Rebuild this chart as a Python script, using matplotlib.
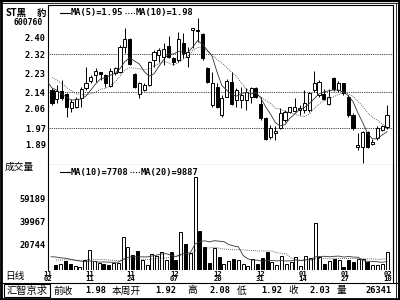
import matplotlib
matplotlib.use('Agg')
import matplotlib.pyplot as plt
from matplotlib.patches import Rectangle
import numpy as np
import pandas as pd

plt.rcParams['font.family'] = ['DejaVu Sans Mono', 'Noto Sans CJK SC']
plt.rcParams['font.weight'] = 'bold'

# daily candles, 11/02 .. 02/10
opens = [2.150, 2.107, 2.145, 2.131, 2.065, 2.069, 2.112, 2.159, 2.192, 2.221,
         2.235, 2.221, 2.169, 2.230, 2.235, 2.353, 2.391, 2.225, 2.131, 2.150,
         2.173, 2.292, 2.315, 2.306, 2.358, 2.301, 2.292, 2.372, 2.306, 2.434,
         2.434, 2.415, 2.254, 2.079, 2.164, 2.031, 2.117, 2.188, 2.102, 2.102,
         2.102, 2.117, 2.159, 2.083, 2.017, 1.927, 1.946, 1.970, 2.008, 2.046,
         2.050, 2.055, 2.055, 2.055, 2.150, 2.126, 2.131, 2.083, 2.206, 2.150,
         2.183, 2.117, 2.031, 1.880, 1.880, 1.951, 1.894, 1.923, 1.961, 1.975]
closes = [2.088, 2.145, 2.112, 2.069, 2.093, 2.107, 2.154, 2.183, 2.211, 2.240,
          2.225, 2.183, 2.240, 2.254, 2.353, 2.391, 2.273, 2.164, 2.183, 2.173,
          2.282, 2.329, 2.339, 2.344, 2.306, 2.282, 2.391, 2.325, 2.329, 2.443,
          2.429, 2.301, 2.188, 2.183, 2.069, 2.112, 2.192, 2.083, 2.150, 2.126,
          2.140, 2.159, 2.117, 2.017, 1.918, 1.970, 1.956, 2.041, 2.046, 2.069,
          2.069, 2.065, 2.088, 2.136, 2.183, 2.188, 2.107, 2.117, 2.154, 2.183,
          2.136, 2.031, 1.970, 1.890, 1.951, 1.880, 1.904, 1.970, 1.979, 2.030]
highs = [2.159, 2.173, 2.197, 2.136, 2.107, 2.117, 2.164, 2.259, 2.221, 2.254,
         2.235, 2.225, 2.254, 2.259, 2.362, 2.443, 2.396, 2.230, 2.188, 2.183,
         2.287, 2.339, 2.348, 2.372, 2.405, 2.306, 2.424, 2.420, 2.353, 2.445,
         2.490, 2.420, 2.259, 2.235, 2.183, 2.126, 2.202, 2.235, 2.159, 2.164,
         2.159, 2.164, 2.164, 2.117, 2.022, 1.984, 1.979, 2.065, 2.055, 2.069,
         2.112, 2.079, 2.150, 2.140, 2.240, 2.197, 2.154, 2.154, 2.211, 2.192,
         2.183, 2.126, 2.041, 1.946, 1.956, 1.956, 1.918, 1.979, 1.984, 2.080]
lows = [2.079, 2.088, 2.102, 2.022, 2.046, 2.065, 2.069, 2.150, 2.183, 2.188,
        2.197, 2.164, 2.164, 2.221, 2.230, 2.325, 2.268, 2.159, 2.112, 2.145,
        2.169, 2.259, 2.282, 2.268, 2.301, 2.268, 2.282, 2.301, 2.259, 2.348,
        2.377, 2.292, 2.183, 2.069, 2.065, 2.022, 2.117, 2.079, 2.069, 2.065,
        2.055, 2.088, 2.112, 2.008, 1.913, 1.918, 1.913, 1.965, 1.998, 2.041,
        2.046, 2.031, 2.041, 2.046, 2.140, 2.117, 2.102, 2.079, 2.145, 2.140,
        2.126, 2.022, 1.961, 1.866, 1.804, 1.875, 1.890, 1.913, 1.956, 1.965]
volumes = [4125, 4950, 7425, 4950, 3300, 2475, 8250, 16500, 7425, 5775,
           4950, 4125, 5775, 5775, 27225, 18975, 12375, 15675, 8250, 4125,
           13200, 11550, 14850, 8250, 14850, 8250, 31350, 21450, 14025, 76725,
           32175, 18975, 5775, 18150, 10725, 4950, 7425, 9075, 8250, 4950,
           3300, 9075, 4950, 9900, 14850, 6600, 4125, 11550, 4950, 6600,
           10725, 3300, 11550, 9900, 38775, 10725, 4950, 7425, 9075, 8250,
           2475, 8250, 6600, 9075, 9075, 6600, 4125, 4125, 4950, 14850]

# days before the window, only used to start the moving averages
prior_closes = [2.28, 2.27, 2.25, 2.26, 2.24, 2.20, 2.19, 2.16, 2.16]
prior_volumes = [5000, 6000, 5500, 6500, 5000, 7000, 5500, 6000, 5500, 5750,
                 12000, 10500, 13000, 11500, 9500, 12500, 11000, 12125, 11000]

price_ticks = [2.40, 2.32, 2.23, 2.14, 2.06, 1.97, 1.89]
grid_levels = [2.32, 2.14, 1.97]
vol_ticks = [20744, 39967, 59189]
date_pos = [-1.65, 7.0, 15.65, 24.7, 33.8, 42.6, 51.5, 60.3, 69.2]
date_labels = ['11\n02', '11\n11', '11\n24', '12\n07', '12\n20',
               '12\n31', '01\n14', '01\n27', '02\n10']
info_names = ['前收', '本周开', '高', '低', '收', '量']
info_values = ['1.98', '1.92', '2.08', '1.92', '2.03', '26341']
info_name_x = [54, 112, 187, 237, 288, 337]
info_value_x = [106, 176, 230, 282, 330, 392]

n = len(closes)
idx = np.arange(n)
cjk = ['Noto Sans CJK SC', 'DejaVu Sans']

fig = plt.figure(figsize=(4, 3), dpi=100)
ax_p = fig.add_axes([48 / 400, 1 - 165 / 300, 345 / 400, 160 / 300])
ax_v = fig.add_axes([48 / 400, 1 - 270 / 300, 345 / 400, 105 / 300])
# overlay in pixel coordinates for the labels and frame
bg = fig.add_axes([0, 0, 1, 1], zorder=10)
bg.set_xlim(0, 400)
bg.set_ylim(300, 0)
bg.axis('off')
xlim = ((48 - 52) / 4.855, (393 - 52) / 4.855)

# price panel
up = [c >= o for o, c in zip(opens, closes)]
face = ['white' if u else 'black' for u in up]
body_lo = [min(o, c) for o, c in zip(opens, closes)]
body_h = [max(abs(c - o), 0.003) for o, c in zip(opens, closes)]
ax_p.vlines(idx, lows, highs, color='k', lw=0.7, zorder=2)
ax_p.bar(idx, body_h, bottom=body_lo, width=0.64, color=face,
         edgecolor='k', linewidth=0.7, zorder=3)

all_c = pd.Series(prior_closes + closes)
x_all = np.arange(-len(prior_closes), n)
ma5 = all_c.rolling(5).mean().values
ma10 = all_c.rolling(10).mean().values
keep = x_all >= -1
ax_p.plot(x_all[keep], ma5[keep], color='#333333', lw=0.6, zorder=4)
ax_p.plot(x_all[keep], ma10[keep], color='#333333', lw=0.6,
          linestyle=(0, (1, 1.5)), zorder=4)
for g in grid_levels:
    ax_p.axhline(g, color='k', lw=0.6, linestyle=(0, (1, 1.2)), zorder=1)

ax_p.set_xlim(*xlim)
ax_p.set_ylim(1.795, 2.552)
ax_p.set_xticks([])
ax_p.set_yticks(price_ticks, labels=[f'{v:.2f}' for v in price_ticks])
ax_p.tick_params(axis='y', length=0, pad=1.5, labelsize=6.2)
for s in ax_p.spines.values():
    s.set_linewidth(0.8)

# volume panel
ax_v.bar(idx, volumes, width=0.64, color=face, edgecolor='k', linewidth=0.7, zorder=3)
all_v = pd.Series(prior_volumes + volumes)
xv_all = np.arange(-len(prior_volumes), n)
vma10 = all_v.rolling(10).mean().values
vma20 = all_v.rolling(20).mean().values
keep = xv_all >= -1
ax_v.plot(xv_all[keep], vma10[keep], color='#333333', lw=0.6, zorder=4)
ax_v.plot(xv_all[keep], vma20[keep], color='#333333', lw=0.6,
          linestyle=(0, (1, 1.5)), zorder=4)
ax_v.set_xlim(*xlim)
ax_v.set_ylim(0, 86600)
ax_v.set_yticks(vol_ticks, labels=[str(v) for v in vol_ticks])
ax_v.set_xticks(date_pos, labels=date_labels)
ax_v.tick_params(axis='y', length=0, pad=1.5, labelsize=6.2)
ax_v.tick_params(axis='x', length=0, pad=0.5, labelsize=5.2)
for lab in ax_v.get_xticklabels():
    lab.set_linespacing(0.8)
ax_v.spines['top'].set_visible(False)
ax_v.spines['bottom'].set_visible(False)
for s in ('left', 'right'):
    ax_v.spines[s].set_linewidth(0.8)


def legend(y, items):
    x = 60
    for style, label in items:
        bg.plot([x, x + 10], [y, y], color='k', lw=0.8, linestyle=style)
        bg.text(x + 11, y, label, ha='left', va='center', fontsize=6.2)
        x += 11 + 5 * len(label) + 4


legend(13, [('-', 'MA(5)=1.95'), ((0, (1, 1.5)), 'MA(10)=1.98')])
legend(172, [('-', 'MA(10)=7708'), ((0, (1, 1.5)), 'MA(20)=9887')])

bg.text(6, 12.5, 'ST黑', ha='left', va='center', fontsize=6.8, family=cjk)
bg.text(37, 12.5, '豹', ha='left', va='center', fontsize=6.8, family=cjk)
bg.text(43, 22.5, '600760', ha='right', va='center', fontsize=5.8)
bg.text(5, 167, '成交量', ha='left', va='center', fontsize=7, family=cjk,
        weight='normal')
bg.text(5, 276.5, '日线', ha='left', va='center', fontsize=7, family=cjk,
        weight='normal')

# info bar
bg.plot([0, 398], [283, 283], color='k', lw=0.8)
bg.add_patch(Rectangle((4, 284), 46, 13, fill=False, edgecolor='k', lw=0.8))
bg.text(27, 290.5, '汇智京求', ha='center', va='center', fontsize=7.4,
        family=cjk, weight='normal')
for name, nx, val, vx in zip(info_names, info_name_x, info_values, info_value_x):
    bg.text(nx, 290.5, name, ha='left', va='center', fontsize=7, family=cjk,
            weight='normal')
    bg.text(vx, 290.5, val, ha='right', va='center', fontsize=6.2)

# outer frame
bg.plot([1, 1], [0, 300], color='k', lw=2)
bg.plot([0, 400], [0.8, 0.8], color='k', lw=1.6)
bg.plot([0, 400], [298.8, 298.8], color='k', lw=2)
bg.plot([0, 397], [3.4, 3.4], color='k', lw=0.6)
bg.plot([396, 396], [3.4, 300], color='k', lw=0.6)
bg.plot([399, 399], [0, 300], color='k', lw=1.4)
bg.plot([393, 393], [165, 283], color='k', lw=0.8)

fig.savefig('out.png', dpi=100)
